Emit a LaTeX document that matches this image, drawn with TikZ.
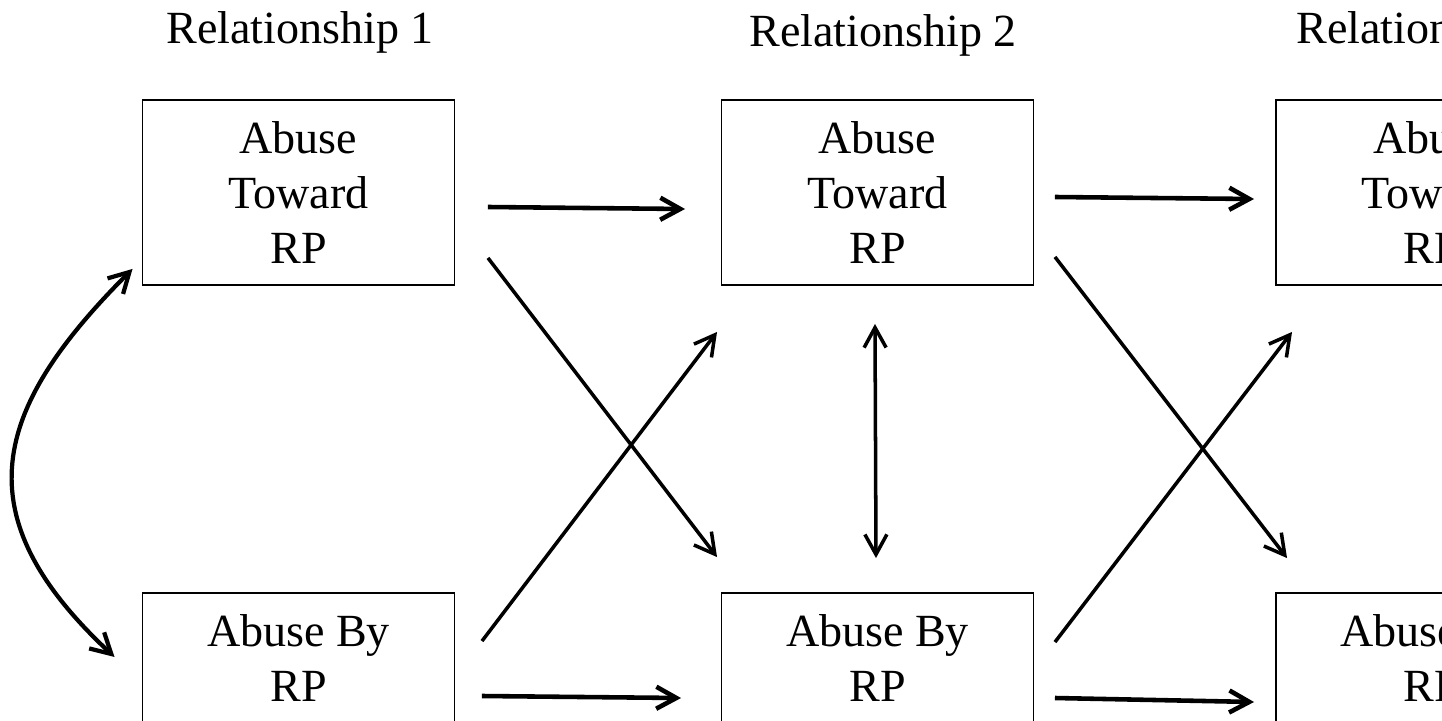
\documentclass[tikz,border=0pt]{standalone}
\usepackage{fontspec}
\setmainfont{Liberation Serif}
\usepackage{tikz}
\usetikzlibrary{arrows.meta,calc}

\begin{document}
\begin{tikzpicture}[x=0.01cm, y=-0.01cm,
  box/.style={draw, line width=0.5pt, minimum width=3.12cm, minimum height=1.85cm,
              align=center, inner sep=0pt, font=\fontsize{13.1pt}{15.65pt}\selectfont},
  lbl/.style={anchor=base, inner sep=0pt, font=\fontsize{13.1pt}{15.65pt}\selectfont},
  arr/.style={-{Straight Barb[length=2mm,width=2.2mm]}, line width=1pt},
  harr/.style={arr, line width=1.3pt},
  darr/.style={arr, {Straight Barb[length=2mm,width=2.2mm]}-{Straight Barb[length=2mm,width=2.2mm]}}
]
  \useasboundingbox (0,0) rectangle (1442,721);
  \clip (0,0) rectangle (1442,721);

  \node[lbl] (rel1) at (300,43) {Relationship 1};
  \node[lbl] (rel2) at (883,47) {Relationship 2};
  \node[lbl] (rel3) at (1430,43) {Relationship 3};

  \node[box] (tl) at (298.5,192.5) {Abuse\\Toward\\RP};
  \node[box] (tm) at (877.5,192.5) {Abuse\\Toward\\RP};
  \node[box] (tr) at (1432,192.5) {Abuse\\Toward\\RP};
  \node[box] (bl) at (298.5,685.5) {Abuse By\\RP\\\vphantom{P}};
  \node[box] (bm) at (877.5,685.5) {Abuse By\\RP\\\vphantom{P}};
  \node[box] (br) at (1432,685.5) {Abuse By\\RP\\\vphantom{P}};

  \draw[harr] ($(tl.east)+(32.5,14.5)$) -- ($(tm.west)+(-35.5,16.5)$);
  \draw[harr] ($(tm.east)+(20.5,4.5)$) -- ($(tr.west)+(-21,6.5)$);
  \draw[harr] ($(bl.east)+(26.5,10.5)$) -- ($(bm.west)+(-39.5,12.5)$);
  \draw[harr] ($(bm.east)+(20.5,12.5)$) -- ($(br.west)+(-21,16.5)$);

  \draw[arr] ($(tl.south east)+(32.5,-28)$) -- ($(bm.north west)+(-3.5,-35)$);
  \draw[arr] ($(bl.north east)+(26.5,49)$) -- ($(tm.south west)+(-3.5,46)$);
  \draw[arr] ($(tm.south east)+(20.5,-29)$) -- ($(br.north west)+(12,-34)$);
  \draw[arr] ($(bm.north east)+(20.5,50)$) -- ($(tr.south west)+(17,46)$);

  \draw[darr] ($(tm.south)+(-2.5,38)$) -- ($(bm.north)+(-1.5,-34)$);
  \draw[darr, line width=1.2pt] ($(tl.south west)+(-9,-17)$)
    .. controls +(-140.7,140.7) and +(-152.6,-142) .. ($(bl.west)+(-27,-28.5)$);
\end{tikzpicture}
\end{document}
